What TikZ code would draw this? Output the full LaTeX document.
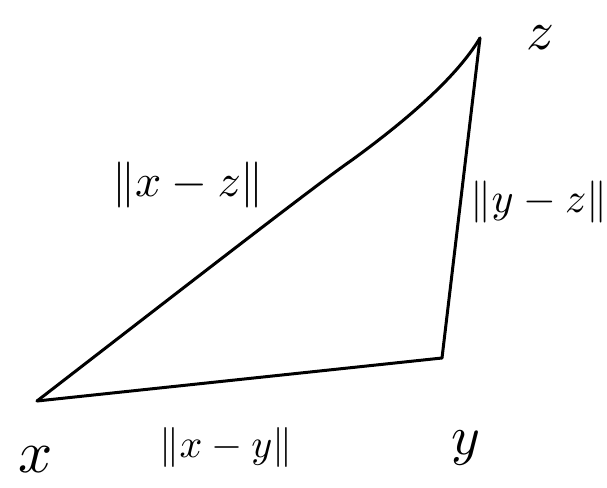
\documentclass[tikz,border=0pt]{standalone}
\usepackage{graphicx}
\begin{document}
\begin{tikzpicture}[x=1pt,y=-1pt,
  edge/.style={line width=3pt,line cap=round,line join=round},
  lbl/.style={inner sep=0pt}]
\useasboundingbox (0,0) rectangle (607,487);
\coordinate (X) at (37,401);
\coordinate (Y) at (442,358);
\coordinate (Z) at (480,38);
\draw[edge] (X) -- (Y);
\draw[edge] (Y) -- (Z);
\draw[edge] (X) .. controls (200,275) and (320,182) .. (352,160) .. controls (400,125) and (455,80) .. (Z);
\node[lbl] (lx) at (36,460) {\scalebox{6}{$x$}};
\node[lbl] (ly) at (466,448) {\scalebox{5.5}{$y$}};
\node[lbl] (lz) at (540,38) {\scalebox{5.5}{$z$}};
\node[lbl] (lxz) at (188,185) {\scalebox{4.6}{$\|x-z\|$}};
\node[lbl] (lyz) at (539,202) {\scalebox{4.2}{$\|y-z\|$}};
\node[lbl] (lxy) at (226,447) {\scalebox{4.0}{$\|x-y\|$}};
\end{tikzpicture}
\end{document}
